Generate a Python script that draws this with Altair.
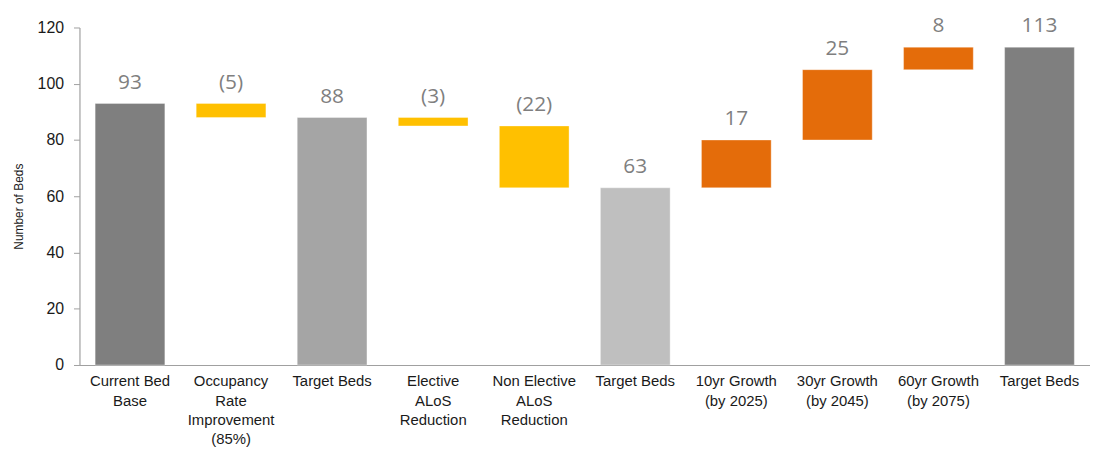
import json
import altair as alt
import pandas as pd

# ---- data ----
label_lines = [
    ["Current Bed", "Base"],
    ["Occupancy", "Rate", "Improvement", "(85%)"],
    ["Target Beds"],
    ["Elective", "ALoS", "Reduction"],
    ["Non Elective", "ALoS", "Reduction"],
    ["Target Beds"],
    ["10yr Growth", "(by 2025)"],
    ["30yr Growth", "(by 2045)"],
    ["60yr Growth", "(by 2075)"],
    ["Target Beds"],
]
amounts = [93, -5, 88, -3, -22, 63, 17, 25, 8, 113]
kinds = ["base", "decrease", "target1", "decrease", "decrease",
         "target2", "increase", "increase", "increase", "base"]
is_total = [True, False, True, False, False, True, False, False, False, True]

# ---- build waterfall table ----
rows = []
running = 0
for i, (amt, kind, tot) in enumerate(zip(amounts, kinds, is_total)):
    if tot:
        start, end = 0, amt
        running = amt
        text = str(amt)
    else:
        start, end = running, running + amt
        running = end
        text = f"({abs(amt)})" if amt < 0 else str(amt)
    rows.append({"idx": i, "start": start, "end": end,
                 "top": max(start, end), "kind": kind, "text": text})
df = pd.DataFrame(rows)

axis_font = "Liberation Sans, Arial, sans-serif"
label_expr = json.dumps(label_lines) + "[datum.value]"

x = alt.X("idx:O",
          scale=alt.Scale(paddingInner=0.31, paddingOuter=0.155),
          axis=alt.Axis(title=None, labelExpr=label_expr, labelAngle=0,
                        labelFont=axis_font, labelFontSize=15, labelLineHeight=19.5,
                        labelColor="#1a1a1a", labelPadding=9,
                        ticks=False, domainColor="#a0a0a0", domainWidth=1.2))

color = alt.Color("kind:N", legend=None,
                  scale=alt.Scale(domain=["base", "target1", "target2", "decrease", "increase"],
                                  range=["#7f7f7f", "#a5a5a5", "#bfbfbf", "#ffc000", "#e46c0a"]))

bars = alt.Chart(df).mark_bar(stroke="#ffffff", strokeOpacity=0.35, strokeWidth=1).encode(
    x=x,
    y=alt.Y("start:Q",
            scale=alt.Scale(domain=[0, 120], nice=False),
            axis=alt.Axis(title="Number of Beds", values=[0, 20, 40, 60, 80, 100, 120],
                          grid=False, tickSize=6, tickColor="#a0a0a0",
                          domainColor="#a0a0a0", domainWidth=1.2,
                          labelFont=axis_font, labelFontSize=16, labelColor="#1a1a1a",
                          labelPadding=10,
                          titleFont=axis_font, titleFontSize=12, titleFontWeight="normal",
                          titleColor="#1a1a1a", titleX=-57, titleY=180,
                          titleAngle=-90, titleAlign="center",
                          titleBaseline="alphabetic")),
    y2="end:Q",
    color=color,
)

labels = alt.Chart(df).mark_text(
    font="Open Sans, Lato, sans-serif", fontSize=21, color="#7f7f7f",
    baseline="alphabetic", dy=-15,
).encode(
    x=alt.X("idx:O"),
    y=alt.Y("top:Q"),
    text="text:N",
)

chart = (bars + labels).properties(
    width=1018, height=340,
    autosize=alt.AutoSizeParams(type="none"),
    padding={"left": 72, "top": 18, "right": 0, "bottom": 84},
).configure_view(stroke=None)

chart.save("out.html", embed_options={"renderer": "svg", "actions": False})
